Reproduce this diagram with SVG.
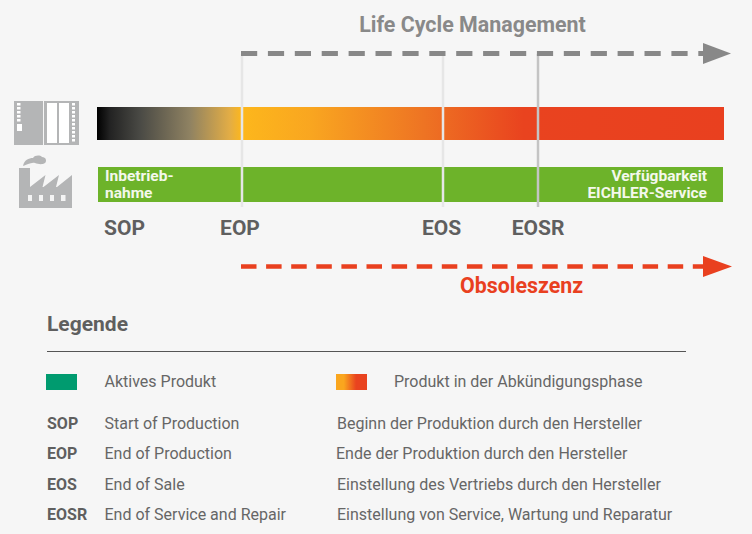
<svg xmlns="http://www.w3.org/2000/svg" width="752" height="534" viewBox="0 0 752 534">
<style>
text{font-family:Roboto,"Liberation Sans",sans-serif}
.ms{font-size:21px;font-weight:700;fill:#5f5f5f}
.g{font-size:16px;fill:#666}
.a{font-size:16px;font-weight:700;fill:#5f5f5f}
.w{font-size:15.500px;font-weight:700;fill:#f4f8ec}
.ic{fill:#b4b5b6}
.vl{stroke-width:2.500;fill:none}
</style>
<defs>
<linearGradient id="bar" x1="97" x2="724" y1="0" y2="0" gradientUnits="userSpaceOnUse">
<stop offset="0" stop-color="#000"/>
<stop offset=".02" stop-color="#222"/>
<stop offset=".069" stop-color="#4a4a45"/>
<stop offset=".148" stop-color="#8f8262"/>
<stop offset=".212" stop-color="#e3ad45"/>
<stop offset=".231" stop-color="#fdb71c"/>
<stop offset=".34" stop-color="#f9a620"/>
<stop offset=".52" stop-color="#ee7423"/>
<stop offset=".68" stop-color="#e9431f"/>
<stop offset="1" stop-color="#e9401f"/>
</linearGradient>
<linearGradient id="leg"><stop offset=".25" stop-color="#faa61e"/><stop offset=".65" stop-color="#e9431f"/></linearGradient>
</defs>
<rect width="752" height="534" fill="#f6f6f6"/>
<g id="icon-plc" class="ic">
<path d="M14 101h29v44H14zM44 101h35v44H44z"/>
<g fill="#fff">
<rect x="17" y="103" width="3.500" height="2.500"/><rect x="17" y="107" width="3.500" height="2.500"/><rect x="17" y="111" width="3.500" height="2.500"/><rect x="17" y="115" width="3.500" height="2.500"/><rect x="17" y="119" width="3.500" height="2.500"/>
<rect x="17" y="124" width="5" height="7"/>
<rect x="47" y="103" width="10" height="40"/><rect x="59" y="103" width="10" height="40"/>
<rect x="72" y="103" width="3" height="2.500"/><rect x="72" y="107" width="3" height="2.500"/><rect x="72" y="111" width="3" height="2.500"/><rect x="72" y="115" width="3" height="2.500"/><rect x="72" y="119" width="3" height="2.500"/><rect x="72" y="123" width="3" height="2.500"/><rect x="72" y="127" width="3" height="2.500"/><rect x="72" y="131" width="3" height="2.500"/><rect x="72" y="135" width="3" height="2.500"/><rect x="72" y="139" width="3" height="2.500"/>
</g>
</g>
<g id="icon-factory" class="ic">
<path d="M19 168h11v19l15.500-12-3 12h1l15.500-12-3 12h1l15-12v33H19z"/>
<path d="M23 166C24 160 29 158 33 158C35 155 40 155 42 157C46 157 47 161 45 163C42 165 38 164 35 163C31 162 27 165 23 166z"/>
<g fill="#f4f4f4"><rect x="28" y="195" width="4" height="6"/><rect x="39" y="195" width="4" height="6"/><rect x="50" y="195" width="4" height="6"/><rect x="61" y="195" width="4.500" height="6"/></g>
</g>
<g id="bar-product"><rect x="97" y="107" width="627" height="33" fill="url(#bar)"/></g>
<g id="bar-service"><rect x="98" y="167" width="625" height="35" fill="#6db32a"/>
<text class="w" x="105" y="181">Inbetrieb-</text><text class="w" x="105" y="198">nahme</text>
<text class="w" x="707" y="181" text-anchor="end">Verfügbarkeit</text><text class="w" x="707" y="198" text-anchor="end">EICHLER-Service</text></g>
<g id="connectors">
<path class="vl" stroke="#e6e6e6" d="M242 54V207M443 54V207"/>
<path class="vl" stroke="#c4c4c4" d="M538 54V207"/>
<path d="M241 53.500H704" fill="none" stroke="#888" stroke-width="5" stroke-dasharray="16.200 10.700"/>
<path d="M703 43l28 10.500-28 10.500z" fill="#888"/>
<path d="M241 266.500H704" fill="none" stroke="#e9401f" stroke-width="4.500" stroke-dasharray="15.500 9.600"/>
<path d="M703 256l29 10.500-29 10.500z" fill="#e9401f"/>
</g>
<text x="472.500" y="32" text-anchor="middle" font-size="21.400" font-weight="700" fill="#898989">Life Cycle Management</text>
<text x="521.500" y="293" text-anchor="middle" font-size="21.400" font-weight="700" fill="#e9401f">Obsoleszenz</text>
<g id="milestones">
<text class="ms" x="124.500" y="235" text-anchor="middle">SOP</text>
<text class="ms" x="240" y="235" text-anchor="middle">EOP</text>
<text class="ms" x="441.500" y="235" text-anchor="middle">EOS</text>
<text class="ms" x="538" y="235" text-anchor="middle">EOSR</text>
</g>
<g id="legend">
<text x="47" y="331" font-size="21" font-weight="700" fill="#5f5f5f">Legende</text>
<path d="M47 351.500H686" stroke="#555" stroke-width="1"/>
<rect x="46" y="374" width="31" height="16" fill="#009b6f"/>
<text class="g" x="104.500" y="387">Aktives Produkt</text>
<rect x="336" y="374" width="31" height="16" fill="url(#leg)"/>
<text class="g" x="394" y="387">Produkt in der Abkündigungsphase</text>
<text class="a" x="47" y="429">SOP</text><text class="g" x="104.500" y="429">Start of Production</text><text class="g" x="337" y="429">Beginn der Produktion durch den Hersteller</text>
<text class="a" x="47" y="459">EOP</text><text class="g" x="104.500" y="459">End of Production</text><text class="g" x="336" y="459">Ende der Produktion durch den Hersteller</text>
<text class="a" x="47" y="490">EOS</text><text class="g" x="104.500" y="490">End of Sale</text><text class="g" x="337" y="490">Einstellung des Vertriebs durch den Hersteller</text>
<text class="a" x="47" y="520">EOSR</text><text class="g" x="104.500" y="520">End of Service and Repair</text><text class="g" x="337" y="520">Einstellung von Service, Wartung und Reparatur</text>
</g>
</svg>
